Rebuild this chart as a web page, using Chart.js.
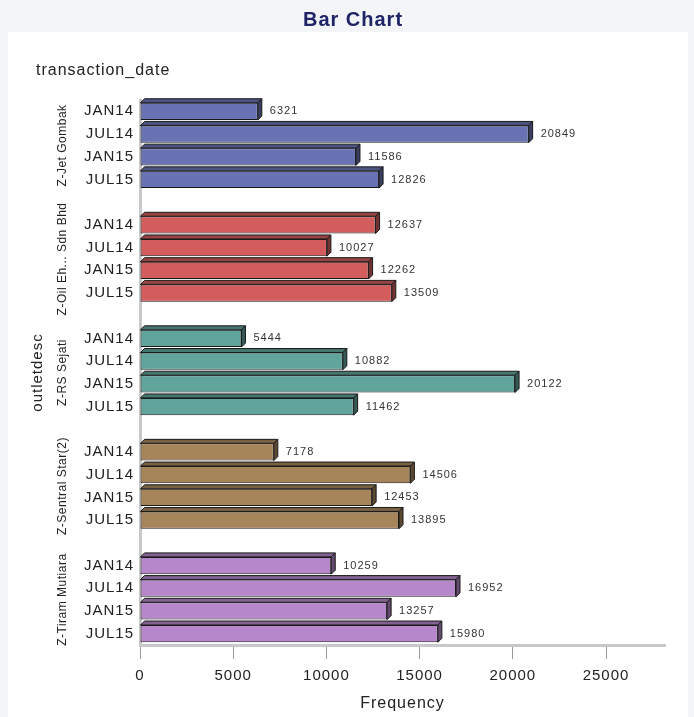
<!DOCTYPE html>
<html>
<head>
<meta charset="utf-8">
<title>Bar Chart</title>
<script src="https://cdn.jsdelivr.net/npm/chart.js@4.4.1/dist/chart.umd.min.js"></script>
<style>
  body { margin: 0; background: #f4f5f9; }
  #wrap { position: relative; width: 694px; height: 717px; overflow: hidden; }
  #panel { position: absolute; left: 8px; top: 32px; width: 680px; height: 700px; background: #ffffff; }
  #chart { position: absolute; left: 0; top: 0; }
</style>
</head>
<body>
<div id="wrap">
  <div id="panel"></div>
  <canvas id="chart" width="694" height="717"></canvas>
</div>
<script>
// Data
const periods = ["JAN14", "JUL14", "JAN15", "JUL15"];
const outlets = ["Z-Jet Gombak", "Z-Oil Eh... Sdn Bhd", "Z-RS Sejati", "Z-Sentral Star(2)", "Z-Tiram Mutiara"];
const jetGombak = [6321, 20849, 11586, 12826];
const oilSdnBhd = [12637, 10027, 12262, 13509];
const rsSejati = [5444, 10882, 20122, 11462];
const sentralStar = [7178, 14506, 12453, 13895];
const tiramMutiara = [10259, 16952, 13257, 15980];
const xTicks = [0, 5000, 10000, 15000, 20000, 25000];
const outletColors = ["#6973b3", "#d35d5d", "#61a49b", "#a7855b", "#b687cb"];

const groups = [jetGombak, oilSdnBhd, rsSejati, sentralStar, tiramMutiara];
const FONT = "'Liberation Sans', Arial, sans-serif";

// flatten into one category axis, with an empty slot between outlets
let labels = [];
let values = [];
let colors = [];
let groupOf = [];
groups.forEach((g, gi) => {
  g.forEach((v, i) => {
    labels.push(periods[i]);
    values.push(v);
    colors.push(outletColors[gi]);
    groupOf.push(gi);
  });
  if (gi < groups.length - 1) {
    labels.push("");
    values.push(null);
    colors.push("rgba(0,0,0,0)");
    groupOf.push(-1);
  }
});

const shade = (hex, f) => {
  const n = parseInt(hex.slice(1), 16);
  const r = Math.round(((n >> 16) & 255) * f);
  const g = Math.round(((n >> 8) & 255) * f);
  const b = Math.round((n & 255) * f);
  return `rgb(${r},${g},${b})`;
};

// the reference text is set a little loose
const spacing = {
  id: 'spacing',
  beforeUpdate(chart) { chart.ctx.letterSpacing = "1px"; },
  beforeDraw(chart) { chart.ctx.letterSpacing = "1px"; }
};

// draws the top and right faces of each bar, then value, group and title texts
const bar3d = {
  id: 'bar3d',
  afterDatasetsDraw(chart) {
    const ctx = chart.ctx;
    const meta = chart.getDatasetMeta(0);
    const d = 4;
    ctx.save();
    ctx.lineWidth = 1;
    ctx.strokeStyle = "#1a1a1a";
    meta.data.forEach((el, i) => {
      if (values[i] === null) return;
      const p = el.getProps(['x', 'y', 'base', 'height'], true);
      const top = p.y - p.height / 2;
      const bottom = p.y + p.height / 2;
      const col = colors[i];
      ctx.fillStyle = shade(col, 0.72);
      ctx.beginPath();
      ctx.moveTo(p.base, top);
      ctx.lineTo(p.base + d, top - d);
      ctx.lineTo(p.x + d, top - d);
      ctx.lineTo(p.x, top);
      ctx.closePath();
      ctx.fill();
      ctx.stroke();
      ctx.fillStyle = shade(col, 0.55);
      ctx.beginPath();
      ctx.moveTo(p.x, top);
      ctx.lineTo(p.x + d, top - d);
      ctx.lineTo(p.x + d, bottom - d);
      ctx.lineTo(p.x, bottom);
      ctx.closePath();
      ctx.fill();
      ctx.stroke();

      ctx.fillStyle = "#333";
      ctx.font = "11px " + FONT;
      ctx.textAlign = "left";
      ctx.textBaseline = "middle";
      ctx.fillText(String(values[i]), p.x + d + 8, p.y);
    });

    // outlet names, rotated, centred on their four bars
    ctx.font = "12px " + FONT;
    ctx.letterSpacing = "0.5px";
    ctx.fillStyle = "#222";
    ctx.textAlign = "center";
    ctx.textBaseline = "middle";
    outlets.forEach((name, gi) => {
      const ys = meta.data.filter((el, i) => groupOf[i] === gi).map(el => el.y);
      const cy = (Math.min(...ys) + Math.max(...ys)) / 2;
      ctx.save();
      ctx.translate(63, cy);
      ctx.rotate(-Math.PI / 2);
      ctx.fillText(name, 0, 0);
      ctx.restore();
    });

    ctx.letterSpacing = "1px";
    ctx.font = "16px " + FONT;
    ctx.textAlign = "left";
    ctx.fillText("transaction_date", 36, 71);

    ctx.font = "bold 20px " + FONT;
    ctx.fillStyle = "#1f2466";
    ctx.textAlign = "center";
    ctx.fillText("Bar Chart", 353, 20);
    ctx.restore();
  }
};

const ctx = document.getElementById("chart");

let barChart = new Chart(ctx, {
  type: 'bar',
  data: {
    labels: labels,
    datasets: [{
      data: values,
      backgroundColor: colors,
      borderColor: "#1a1a1a",
      borderWidth: 1,
      borderSkipped: false,
      barPercentage: 0.76,
      categoryPercentage: 1
    }]
  },
  options: {
    indexAxis: 'y',
    responsive: false,
    animation: false,
    devicePixelRatio: 1,
    layout: {
      padding: { left: 24, right: 29, top: 100, bottom: 0 }
    },
    plugins: {
      legend: { display: false },
      tooltip: { enabled: false },
      title: { display: false }
    },
    scales: {
      x: {
        type: 'linear',
        min: 0,
        max: 28165,
        afterBuildTicks: scale => {
          scale.ticks = xTicks.map(v => ({ value: v }));
        },
        afterFit: scale => { scale.height = 72; },
        grid: {
          display: true,
          drawOnChartArea: false,
          drawTicks: true,
          tickLength: 14,
          color: "#9a9a9a"
        },
        border: { display: true, color: "#c8c8c8", width: 3 },
        ticks: {
          padding: 8,
          color: "#222",
          font: { family: FONT, size: 15 },
          callback: v => String(v)
        },
        title: {
          display: true,
          text: "Frequency",
          color: "#222",
          font: { family: FONT, size: 16 },
          padding: { top: 4, bottom: 4 }
        }
      },
      y: {
        afterFit: scale => { scale.width = 116; },
        grid: { display: false, drawTicks: false },
        border: { display: true, color: "#c8c8c8", width: 3 },
        ticks: {
          padding: 6,
          autoSkip: false,
          color: "#222",
          font: { family: FONT, size: 15 }
        },
        title: {
          display: true,
          text: "outletdesc",
          color: "#222",
          font: { family: FONT, size: 15 },
          padding: { top: 5, bottom: 4 }
        }
      }
    }
  },
  plugins: [spacing, bar3d]
});
</script>
</body>
</html>
